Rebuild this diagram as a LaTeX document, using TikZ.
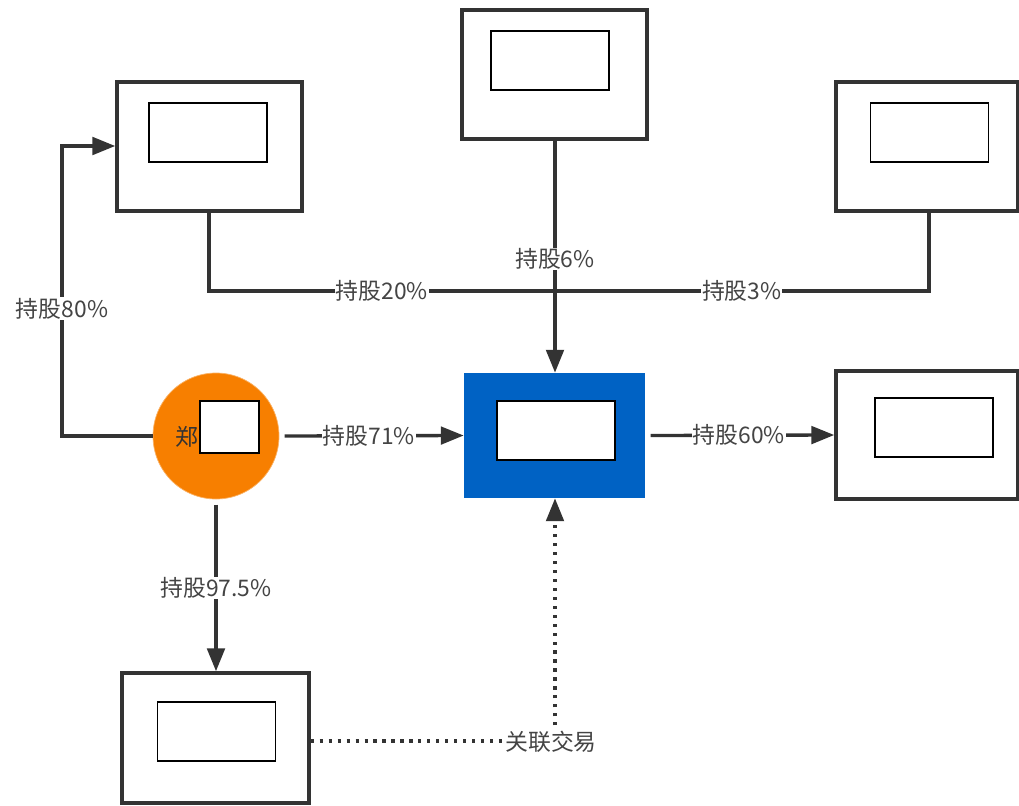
\documentclass[tikz,border=0pt]{standalone}
\usepackage{fontspec}
\setmainfont{Noto Sans CJK SC}
\usetikzlibrary{arrows.meta}
\definecolor{lineGray}{RGB}{51,51,51}
\definecolor{textGray}{RGB}{68,68,68}
\definecolor{holdOrange}{RGB}{247,127,0}
\definecolor{coreBlue}{RGB}{0,98,196}
\begin{document}
\begin{tikzpicture}[
        company/.style={rectangle, draw=lineGray, line width=2pt, fill=white, minimum width=3.7cm, minimum height=2.58cm},
        mask/.style={rectangle, draw=black, line width=1.1pt, fill=white, minimum width=2.36cm, minimum height=1.18cm},
        holder/.style={circle, fill=holdOrange, draw=holdOrange!60, minimum size=2.52cm},
        core/.style={rectangle, fill=coreBlue, minimum width=3.62cm, minimum height=2.5cm},
        arrow/.style={-{Triangle[length=13pt,width=10pt]}, line width=1.9pt, draw=lineGray},
        link/.style={line width=1.9pt, draw=lineGray},
        deal/.style={-{Triangle[length=13pt,width=10pt]}, line width=1.9pt, draw=lineGray, dash pattern=on 1.8pt off 3.3pt},
        pct/.style={fill=white, text=textGray, font=\fontsize{13}{15}\selectfont, inner sep=0.5pt}
    ]
    \useasboundingbox (0,0) rectangle (20.38,-16.1);

    % Companies around
    \node[company] (ca) at (4.19,-2.93) {};
    \node[mask] (ma) at (4.16,-2.65) {};
    \node[company] (cb) at (11.09,-1.49) {};
    \node[mask] (mb) at (11.0,-1.21) {};
    \node[company, minimum width=3.64cm] (cc) at (18.54,-2.93) {};
    \node[mask] (mc) at (18.59,-2.65) {};
    \node[company, minimum width=3.64cm, minimum height=2.56cm] (ce) at (18.54,-8.70) {};
    \node[mask] (me) at (18.68,-8.55) {};
    \node[company, minimum width=3.74cm, minimum height=2.6cm] (cf) at (4.31,-14.76) {};
    \node[mask] (mf) at (4.33,-14.63) {};

    % Holder
    \node[holder] (zheng) at (4.32,-8.72) {};
    \node[text=lineGray, font=\fontsize{13}{15}\selectfont] (zhengtxt) at (3.74,-8.74) {郑};
    \node[mask, minimum width=1.18cm, minimum height=1.04cm] (mz) at (4.59,-8.54) {};

    % Core company
    \node[core] (main) at (11.09,-8.71) {};
    \node[mask] (mm) at (11.12,-8.61) {};

    % Helper points
    \coordinate (p1) at (1.24,-8.72);
    \coordinate (p2) at (1.24,-2.92);
    \coordinate (p3) at (4.18,-5.82);
    \coordinate (p4) at (18.58,-5.82);
    \coordinate (p5) at (11.1,-14.82);

    % Holdings
    \draw[arrow] (zheng.west) -- (p1) -- node[pct, pos=0.44] {持股80\%} (p2) -- (ca.west |- p2);
    \draw[link] (ca.south -| p3) -- (p3) -- node[pct, pos=0.24] {持股20\%} node[pct, pos=0.74] {持股3\%} (p4) -- (cc.south -| p4);
    \draw[arrow] (cb.south -| p5) -- node[pct, pos=0.51] {持股6\%} (main.north -| p5);
    \draw[arrow] ([xshift=3pt]zheng.east) -- node[pct, pos=0.47] {持股71\%} (main.west);
    \draw[arrow] ([xshift=3pt]main.east) -- node[pct, pos=0.48] {持股60\%} (ce.west);
    \draw[arrow] ([yshift=-3pt]zheng.south) -- node[pct, pos=0.5] {持股97.5\%} (cf.north -| zheng);

    % Related trade
    \draw[deal] (cf.east |- p5) -- (p5) -- (main.south -| p5);
    \node[pct, inner sep=2pt] (trade) at (11.02,-14.84) {关联交易};

\end{tikzpicture}
\end{document}
